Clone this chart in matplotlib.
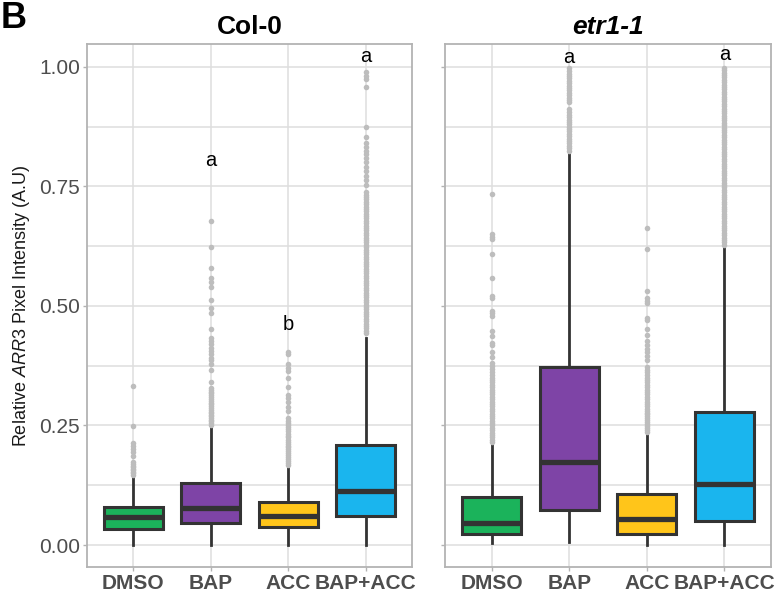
import numpy as np
import matplotlib
matplotlib.use('Agg')
import matplotlib.pyplot as plt

plt.rcParams['font.family'] = ['Liberation Sans', 'DejaVu Sans']
plt.rcParams['mathtext.fontset'] = 'custom'
plt.rcParams['mathtext.rm'] = 'Liberation Sans'
plt.rcParams['mathtext.it'] = 'Liberation Sans:italic'

groups = ['DMSO', 'BAP', 'ACC', 'BAP+ACC']
colors = ['#1BB35B', '#7E44A6', '#FFC51A', '#1AB5EE']

# Col-0 box statistics
col0_q1 = [0.033, 0.047, 0.038, 0.061]
col0_med = [0.059, 0.077, 0.061, 0.113]
col0_q3 = [0.080, 0.129, 0.091, 0.209]
col0_lo = [0.0, 0.0, 0.0, 0.0]
col0_hi = [0.140, 0.247, 0.165, 0.432]

col0_dmso_out = [0.146, 0.150, 0.153, 0.156, 0.160, 0.163, 0.166, 0.170, 0.173,
                 0.187, 0.194, 0.201, 0.208, 0.214, 0.248, 0.333]
col0_bap_out = [0.252, 0.256, 0.259, 0.262, 0.266, 0.269, 0.272, 0.276, 0.279,
                0.283, 0.287, 0.290, 0.294, 0.297, 0.301, 0.305, 0.309, 0.313,
                0.317, 0.321, 0.325, 0.328, 0.340, 0.366, 0.379, 0.386, 0.392,
                0.400, 0.406, 0.413, 0.420, 0.427, 0.434, 0.451, 0.486, 0.495,
                0.513, 0.540, 0.550, 0.559, 0.579, 0.624, 0.678]
col0_acc_out = [0.168, 0.172, 0.176, 0.180, 0.184, 0.188, 0.192, 0.196, 0.200,
                0.204, 0.208, 0.212, 0.216, 0.220, 0.225, 0.229, 0.233, 0.238,
                0.242, 0.247, 0.251, 0.256, 0.260, 0.265, 0.280, 0.288, 0.300,
                0.307, 0.314, 0.331, 0.350, 0.364, 0.371, 0.378, 0.399, 0.404]
col0_bapacc_out = [0.443, 0.448, 0.453, 0.458, 0.463, 0.468, 0.473, 0.478, 0.483,
                   0.488, 0.493, 0.498, 0.503, 0.508, 0.513, 0.518, 0.523, 0.528,
                   0.533, 0.538, 0.543, 0.548, 0.553, 0.558, 0.563, 0.568, 0.573,
                   0.578, 0.583, 0.588, 0.593, 0.598, 0.603, 0.608, 0.613, 0.618,
                   0.623, 0.628, 0.633, 0.638, 0.643, 0.648, 0.653, 0.658, 0.663,
                   0.668, 0.673, 0.678, 0.683, 0.688, 0.693, 0.698, 0.703, 0.708,
                   0.713, 0.718, 0.723, 0.728, 0.733, 0.739, 0.753, 0.764, 0.772,
                   0.782, 0.791, 0.801, 0.809, 0.817, 0.824, 0.832, 0.840, 0.853,
                   0.875, 0.958, 0.974, 0.982, 0.990]

# etr1-1 box statistics
etr_q1 = [0.022, 0.073, 0.023, 0.050]
etr_med = [0.047, 0.174, 0.054, 0.128]
etr_q3 = [0.100, 0.372, 0.107, 0.279]
etr_lo = [0.005, 0.006, 0.001, 0.0]
etr_hi = [0.211, 0.819, 0.232, 0.623]

etr_dmso_out = [0.215, 0.220, 0.225, 0.230, 0.235, 0.240, 0.245, 0.250, 0.255,
                0.260, 0.265, 0.270, 0.275, 0.280, 0.285, 0.290, 0.295, 0.300,
                0.305, 0.310, 0.315, 0.320, 0.325, 0.330, 0.335, 0.340, 0.345,
                0.350, 0.356, 0.362, 0.368, 0.374, 0.381, 0.394, 0.403, 0.418,
                0.422, 0.437, 0.448, 0.480, 0.485, 0.490, 0.516, 0.520, 0.559,
                0.608, 0.640, 0.645, 0.650, 0.734]
etr_bap_out = [0.825, 0.830, 0.835, 0.840, 0.845, 0.850, 0.855, 0.860, 0.865,
               0.870, 0.875, 0.880, 0.885, 0.890, 0.895, 0.900, 0.905, 0.913,
               0.926, 0.931, 0.936, 0.941, 0.946, 0.951, 0.956, 0.961, 0.966,
               0.971, 0.976, 0.981, 0.986, 0.991, 0.997]
etr_acc_out = [0.237, 0.241, 0.245, 0.249, 0.253, 0.257, 0.261, 0.265, 0.269,
               0.273, 0.277, 0.281, 0.285, 0.290, 0.295, 0.300, 0.305, 0.310,
               0.315, 0.320, 0.325, 0.330, 0.335, 0.340, 0.345, 0.350, 0.356,
               0.362, 0.367, 0.373, 0.387, 0.395, 0.403, 0.411, 0.419, 0.427,
               0.439, 0.452, 0.471, 0.474, 0.507, 0.511, 0.516, 0.531, 0.619,
               0.664]
etr_bapacc_out = [0.628, 0.633, 0.638, 0.643, 0.648, 0.653, 0.658, 0.663, 0.668,
                  0.673, 0.678, 0.683, 0.688, 0.693, 0.698, 0.703, 0.708, 0.713,
                  0.718, 0.723, 0.728, 0.733, 0.738, 0.743, 0.748, 0.753, 0.758,
                  0.763, 0.768, 0.773, 0.778, 0.783, 0.788, 0.793, 0.798, 0.803,
                  0.808, 0.813, 0.818, 0.823, 0.828, 0.833, 0.838, 0.843, 0.848,
                  0.853, 0.858, 0.863, 0.868, 0.873, 0.878, 0.883, 0.888, 0.893,
                  0.898, 0.903, 0.908, 0.913, 0.918, 0.923, 0.928, 0.933, 0.938,
                  0.943, 0.948, 0.953, 0.958, 0.963, 0.968, 0.973, 0.978, 0.983,
                  0.988, 0.993, 0.997]

# significance letters (group index, y)
col0_letters = [(1, 'a', 0.792), (2, 'b', 0.450), (3, 'a', 1.010)]
etr_letters = [(1, 'a', 1.009), (3, 'a', 1.015)]

edge = '#333333'
grid_c = '#DEDEDE'
spine_c = '#B3B3B3'
tick_c = '#4D4D4D'


def make_stats(q1, med, q3, lo, hi, outs):
    stats = []
    for i in range(len(q1)):
        stats.append({'q1': q1[i], 'med': med[i], 'q3': q3[i],
                      'whislo': lo[i], 'whishi': hi[i], 'fliers': outs[i]})
    return stats


def draw_panel(ax, stats, letters, title, italic):
    ax.set_xlim(0.4, 4.6)
    ax.set_ylim(-0.046, 1.048)
    ax.set_yticks([0, 0.25, 0.5, 0.75, 1.0])
    ax.set_yticks([0.125, 0.375, 0.625, 0.875], minor=True)
    ax.grid(True, which='major', color=grid_c, lw=1.1, zorder=0)
    ax.grid(True, which='minor', axis='y', color=grid_c, lw=1.1, zorder=0)
    ax.set_axisbelow(True)
    bp = ax.bxp(stats, positions=[1, 2, 3, 4], widths=0.76, patch_artist=True,
                showcaps=False,
                boxprops=dict(edgecolor=edge, linewidth=2.2),
                whiskerprops=dict(color=edge, linewidth=2.0),
                medianprops=dict(color=edge, linewidth=3.8, solid_capstyle='butt'),
                flierprops=dict(marker='o', markersize=4.0, markerfacecolor='#BDBDBD',
                                markeredgecolor='none', linestyle='none'))
    for patch, c in zip(bp['boxes'], colors):
        patch.set_facecolor(c)
        patch.set_zorder(3)
    for m in bp['medians']:
        m.set_zorder(4)
    for w in bp['whiskers']:
        w.set_zorder(2)
    for f in bp['fliers']:
        f.set_zorder(2)
    for i, lab, y in letters:
        ax.text(i + 1, y, lab, ha='center', va='baseline', fontsize=14.5, color='black')
    ax.set_xticks([1, 2, 3, 4])
    ax.set_xticklabels(groups, fontsize=15, fontweight='bold', color=tick_c)
    for s in ax.spines.values():
        s.set_color(spine_c)
        s.set_linewidth(1.3)
    ax.tick_params(axis='both', which='major', length=3, width=1, color=spine_c,
                   labelsize=15, labelcolor=tick_c, pad=2)
    ax.tick_params(axis='y', which='minor', length=0)
    ax.set_title(title, fontsize=19, fontweight='bold',
                 fontstyle='italic' if italic else 'normal', pad=7)


fig = plt.figure(figsize=(7.76, 5.92), dpi=100)
ax1 = fig.add_axes([87 / 776, 25 / 592, 325 / 776, 523 / 592])
ax2 = fig.add_axes([445 / 776, 25 / 592, 326 / 776, 523 / 592])

s1 = make_stats(col0_q1, col0_med, col0_q3, col0_lo, col0_hi,
                [col0_dmso_out, col0_bap_out, col0_acc_out, col0_bapacc_out])
s2 = make_stats(etr_q1, etr_med, etr_q3, etr_lo, etr_hi,
                [etr_dmso_out, etr_bap_out, etr_acc_out, etr_bapacc_out])

draw_panel(ax1, s1, col0_letters, 'Col-0', False)
draw_panel(ax2, s2, etr_letters, 'etr1-1', True)
ax1.set_yticklabels(['0.00', '0.25', '0.50', '0.75', '1.00'])
ax2.set_yticklabels([])

ax1.set_ylabel(r'Relative $\mathit{ARR3}$ Pixel Intensity (A.U)', fontsize=13,
               color='#1A1A1A', labelpad=5)

fig.text(0.001, 1 - 28 / 592, 'B', fontsize=26, fontweight='bold', va='baseline')

fig.savefig('out.png', dpi=100)
